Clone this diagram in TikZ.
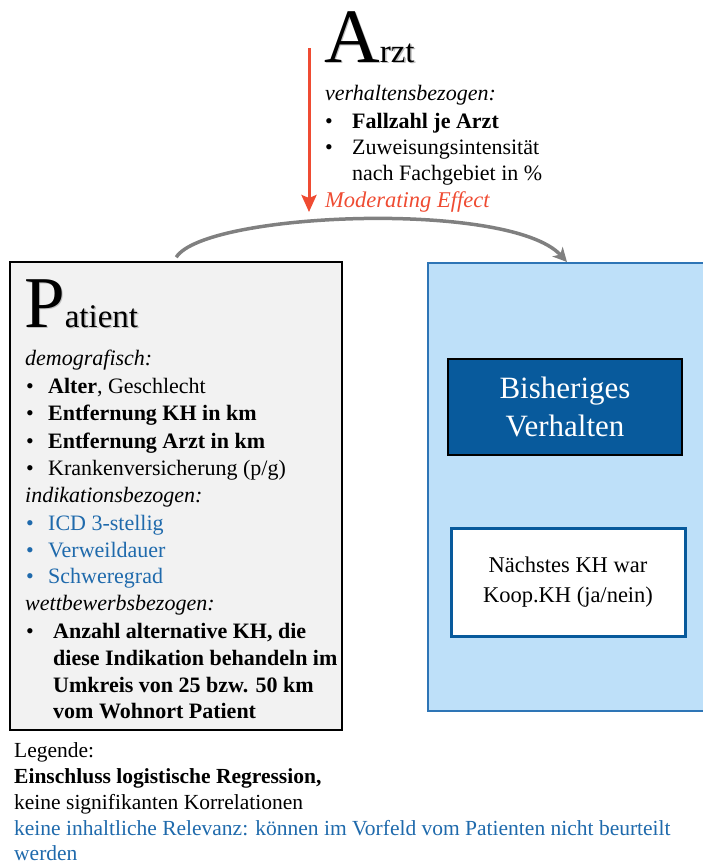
\documentclass[tikz,border=0pt]{standalone}
\usepackage{fontspec}
\setmainfont{Liberation Serif}
\usetikzlibrary{arrows.meta}
\definecolor{boxgray}{RGB}{242,242,242}
\definecolor{lightblue}{RGB}{190,224,249}
\definecolor{borderblue}{RGB}{46,117,182}
\definecolor{darkblue}{RGB}{8,90,156}
\definecolor{textblue}{RGB}{31,106,172}
\definecolor{redarrow}{RGB}{239,75,50}
\definecolor{arrowgray}{RGB}{128,128,128}
\tikzset{
  txt/.style={anchor=base west, inner sep=0pt, font=\fontsize{22}{26}\selectfont},
  leg/.style={anchor=base west, inner sep=0pt, font=\fontsize{21.5}{26}\selectfont},
  bul/.style={anchor=base west, inner sep=0pt, font=\fontsize{22}{26}\selectfont},
  panel/.style={draw, rectangle, inner sep=0pt},
  shadowtxt/.style={anchor=base west, inner sep=0pt, text=black!25},
}
\newcommand{\arzttitle}{{\fontsize{77}{77}\selectfont A}{\fontsize{33}{33}\selectfont rzt}}
\newcommand{\pattitle}{{\fontsize{73}{73}\selectfont P}{\fontsize{33}{33}\selectfont atient}}
\begin{document}
\begin{tikzpicture}[x=1pt,y=-1pt]
\useasboundingbox (0,0) rectangle (703,863);
% boxes
\node[panel, fill=boxgray, draw=black, line width=1.5pt, minimum width=332pt, minimum height=468pt] (patient) at (176,496) {};
\node[panel, fill=lightblue, draw=borderblue, line width=1.5pt, minimum width=300pt, minimum height=448pt, anchor=north west] (outcome) at (427,262) {};
\node[panel, fill=darkblue, draw=black, line width=1.2pt, minimum width=234pt, minimum height=96pt, text=white, align=center, font=\fontsize{31}{38}\selectfont] (bisher) at (565,407) {Bisheriges\\Verhalten};
\node[panel, fill=white, draw=darkblue, line width=3pt, minimum width=234pt, minimum height=108pt, align=center, font=\fontsize{22.5}{30}\selectfont] (naechst) at (568,582) {Nächstes KH war\\Koop.KH (ja/nein)};

% Arzt
\node[shadowtxt] (arztshadow) at (325.5,63.5) {\arzttitle};
\node[txt] (arzt) at (324,62) {\arzttitle};
\node[txt, font=\fontsize{22}{26}\selectfont\itshape] (verh) at (325,100) {verhaltensbezogen:};
\node[bul] (b1) at (325,128) {\textbullet};
\node[txt] (fall) at (352,128) {\textbf{Fallzahl je Arzt}};
\node[bul] (b2) at (325,154) {\textbullet};
\node[txt] (zuw) at (352,154) {Zuweisungsintensität};
\node[txt] (nach) at (352,180) {nach Fachgebiet in \%};
\node[txt, font=\fontsize{22.5}{26}\selectfont\itshape, text=redarrow] (mod) at (325,207) {Moderating Effect};

\coordinate (rtop) at (309,48);
\coordinate (rbot) at (309,212);
\draw[redarrow, line width=3pt, -{Stealth[length=17pt,width=15pt,inset=3pt]}] (rtop) -- (rbot);

% gray curved arrow
\draw[arrowgray, line width=3.5pt, -{Stealth[length=14pt,width=14pt,inset=4pt]}]
  ([xshift=167pt,yshift=4pt]patient.north west) .. controls (205,212) and (510,200) .. ([xshift=140pt]outcome.north west);

% Patient
\node[shadowtxt] (patshadow) at (25.5,328.5) {\pattitle};
\node[txt] (pat) at (24,327) {\pattitle};
\node[txt, font=\fontsize{22}{26}\selectfont\itshape] (demo) at (25,365) {demografisch:};
\node[bul] (p1) at (26,393) {\textbullet};
\node[txt] (alter) at (48,393) {\textbf{Alter}, Geschlecht};
\node[bul] (p2) at (26,420) {\textbullet};
\node[txt] (entkh) at (48,420) {\textbf{Entfernung KH in km}};
\node[bul] (p3) at (26,448) {\textbullet};
\node[txt] (entarzt) at (48,448) {\textbf{Entfernung Arzt in km}};
\node[bul] (p4) at (26,475) {\textbullet};
\node[txt] (kv) at (48,475) {Krankenversicherung (p/g)};
\node[txt, font=\fontsize{22}{26}\selectfont\itshape] (indi) at (25,502) {indikationsbezogen:};
\node[bul, text=textblue] (p5) at (26,530) {\textbullet};
\node[txt, text=textblue] (icd) at (48,530) {ICD 3-stellig};
\node[bul, text=textblue] (p6) at (26,557) {\textbullet};
\node[txt, text=textblue] (vwd) at (48,557) {Verweildauer};
\node[bul, text=textblue] (p7) at (26,583) {\textbullet};
\node[txt, text=textblue] (schw) at (48,583) {Schweregrad};
\node[txt, font=\fontsize{22}{26}\selectfont\itshape] (wett) at (25,610) {wettbewerbsbezogen:};
\node[bul] (p8) at (26,638) {\textbullet};
\node[txt, font=\fontsize{22}{26}\selectfont\bfseries] (anz1) at (53,638) {Anzahl alternative KH, die};
\node[txt, font=\fontsize{22}{26}\selectfont\bfseries] (anz2) at (53,665) {diese Indikation behandeln im};
\node[txt, font=\fontsize{22}{26}\selectfont\bfseries] (anz3) at (53,692) {Umkreis von 25 bzw. 50 km};
\node[txt, font=\fontsize{22}{26}\selectfont\bfseries] (anz4) at (53,718) {vom Wohnort Patient};

% Legend
\node[leg] (l1) at (14,757) {Legende:};
\node[leg, font=\fontsize{21.5}{26}\selectfont\bfseries] (l2) at (14,783) {Einschluss logistische Regression,};
\node[leg] (l3) at (14,809) {keine signifikanten Korrelationen};
\node[leg, text=textblue] (l4) at (14,835) {keine inhaltliche Relevanz: können im Vorfeld vom Patienten nicht beurteilt};
\node[leg, text=textblue] (l5) at (14,860) {werden};
\end{tikzpicture}
\end{document}
